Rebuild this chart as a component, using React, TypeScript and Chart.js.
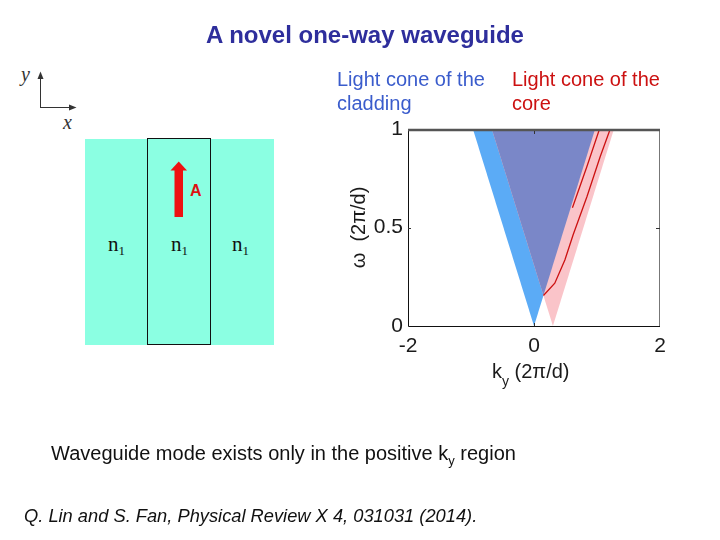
import React, { useEffect, useRef } from "react";
import { Chart, registerables } from "chart.js";

Chart.register(...registerables);

// ---- data (k_y in units of 2π/d, ω in units of 2π/d) ----
const claddingConeK = [0, -0.97, 0.97];
const claddingConeW = [0, 1, 1];
const coreConeK = [0.3, -0.67, 1.27];
const coreConeW = [0, 1, 1];
const overlapK = [0.15, -0.67, 0.97];
const overlapW = [0.155, 1, 1];
const modeAK = [0.15, 0.33, 0.49, 0.62, 0.84, 1.05, 1.21];
const modeAW = [0.155, 0.217, 0.335, 0.462, 0.656, 0.859, 1.0];
const modeBK = [0.61, 0.84, 1.04];
const modeBW = [0.6, 0.81, 1.0];
const xTickStep = 2;
const yTickStep = 0.5;

const pts = (ks: number[], ws: number[]) => ks.map((k, i) => ({ x: k, y: ws[i] }));

const tickFont = { family: "'Liberation Sans', Arial, sans-serif", size: 21 };

const framePlugin = {
  id: "frame",
  afterDatasetsDraw(chart: any) {
    const { ctx, chartArea, scales } = chart;
    const { left, right, top, bottom } = chartArea;
    ctx.save();
    ctx.lineWidth = 1;
    ctx.strokeStyle = "#111";
    ctx.beginPath();
    ctx.moveTo(left + 0.5, top);
    ctx.lineTo(left + 0.5, bottom + 0.5);
    ctx.lineTo(right, bottom + 0.5);
    ctx.stroke();
    ctx.strokeStyle = "#777";
    ctx.beginPath();
    ctx.moveTo(right - 0.5, top);
    ctx.lineTo(right - 0.5, bottom);
    ctx.stroke();
    ctx.strokeStyle = "#555";
    ctx.lineWidth = 2.5;
    ctx.beginPath();
    ctx.moveTo(left, top + 1);
    ctx.lineTo(right, top + 1);
    ctx.stroke();
    // inward tick marks
    ctx.lineWidth = 1;
    ctx.strokeStyle = "#333";
    scales.x.ticks.forEach((t: any) => {
      const px = Math.round(scales.x.getPixelForValue(t.value)) + 0.5;
      if (px <= left + 2 || px >= right - 2) return;
      ctx.beginPath();
      ctx.moveTo(px, bottom);
      ctx.lineTo(px, bottom - 3);
      ctx.moveTo(px, top + 2);
      ctx.lineTo(px, top + 5);
      ctx.stroke();
    });
    scales.y.ticks.forEach((t: any) => {
      const py = Math.round(scales.y.getPixelForValue(t.value)) + 0.5;
      if (py <= top + 2 || py >= bottom - 2) return;
      ctx.beginPath();
      ctx.moveTo(left, py);
      ctx.lineTo(left + 3, py);
      ctx.moveTo(right, py);
      ctx.lineTo(right - 4, py);
      ctx.stroke();
    });
    ctx.restore();
  },
};

function DispersionChart() {
  const ref = useRef<HTMLCanvasElement | null>(null);
  useEffect(() => {
    if (!ref.current) return;
    const region = (data: any, color: string, order: number) => ({
      data,
      showLine: true,
      fill: "shape",
      backgroundColor: color,
      borderColor: "transparent",
      borderWidth: 0,
      pointRadius: 0,
      order,
    });
    const line = (data: any) => ({
      data,
      showLine: true,
      fill: false,
      borderColor: "#cc1111",
      borderWidth: 1.3,
      pointRadius: 0,
      order: 1,
    });
    const chart = new Chart(ref.current, {
      type: "scatter",
      data: {
        datasets: [
          region(pts(claddingConeK, claddingConeW), "#5babf6", 5),
          region(pts(coreConeK, coreConeW), "#fac4c9", 4),
          region(pts(overlapK, overlapW), "#7a87c8", 3),
          line(pts(modeAK, modeAW)),
          line(pts(modeBK, modeBW)),
        ] as any,
      },
      options: {
        animation: false,
        responsive: false,
        maintainAspectRatio: false,
        layout: { padding: { left: 347, right: 60, top: 129, bottom: 154 } },
        plugins: {
          legend: { display: false },
          tooltip: { enabled: false },
        },
        scales: {
          x: {
            type: "linear",
            min: -2,
            max: 2,
            grid: { display: false, drawTicks: false },
            border: { display: false },
            ticks: {
              stepSize: xTickStep,
              font: tickFont,
              color: "#1a1a1a",
              padding: 8,
              maxRotation: 0,
              callback: (v: any) => String(v),
            },
            afterFit: (s: any) => {
              s.height = 60;
            },
          },
          y: {
            type: "linear",
            min: 0,
            max: 1,
            grid: { display: false, drawTicks: false },
            border: { display: false },
            ticks: {
              stepSize: yTickStep,
              font: tickFont,
              color: "#1a1a1a",
              padding: 5,
              callback: (v: any) => String(v),
            },
            title: {
              display: true,
              text: "ω  (2π/d)",
              font: { family: "'Liberation Sans', Arial, sans-serif", size: 20 },
              color: "#1a1a1a",
              padding: 0,
            },
            afterFit: (s: any) => {
              s.width = 61;
            },
          },
        },
      } as any,
      plugins: [framePlugin],
    });
    return () => chart.destroy();
  }, []);
  return (
    <canvas
      ref={ref}
      width={720}
      height={540}
      style={{ position: "absolute", left: 0, top: 0, width: 720, height: 540 }}
    />
  );
}

const sans = "'Liberation Sans', Arial, sans-serif";
const serif = "'Liberation Serif', 'Times New Roman', serif";

const abs = (left: number, top: number, extra: any = {}) => ({
  position: "absolute" as const,
  left,
  top,
  whiteSpace: "nowrap" as const,
  ...extra,
});

function N1({ left }: { left: number }) {
  return (
    <div style={abs(left, 234, { fontFamily: serif, fontSize: 21, lineHeight: "21px", color: "#111" })}>
      n<span style={{ fontSize: 13, position: "relative", top: 4 }}>1</span>
    </div>
  );
}

export default function App() {
  return (
    <div
      style={{
        position: "absolute",
        left: 0,
        top: 0,
        width: 720,
        height: 540,
        background: "#fff",
        overflow: "hidden",
        fontFamily: sans,
      }}
    >
      {/* waveguide sketch */}
      <div style={abs(85, 139, { width: 189, height: 206, background: "#8bffe2" })} />
      <div
        style={abs(147, 138, {
          width: 64,
          height: 207,
          border: "1px solid #111",
          boxSizing: "border-box",
        })}
      />
      <svg
        width={720}
        height={540}
        style={{ position: "absolute", left: 0, top: 0, pointerEvents: "none" }}
      >
        <line x1={40.5} y1={76} x2={40.5} y2={107.5} stroke="#333" strokeWidth={1} />
        <polygon points="37.5,79 40.5,71.5 43.5,79" fill="#333" />
        <line x1={40} y1={107.5} x2={72} y2={107.5} stroke="#333" strokeWidth={1} />
        <polygon points="69,104.5 76.5,107.5 69,110.5" fill="#333" />
        <rect x={174.5} y={169} width={8.5} height={48} fill="#ee1111" />
        <polygon points="170.5,170.5 178.75,161.5 187,170.5" fill="#ee1111" />
      </svg>
      <div style={abs(21, 64, { fontFamily: serif, fontStyle: "italic", fontSize: 20, lineHeight: "20px", color: "#333" })}>y</div>
      <div style={abs(63, 112, { fontFamily: serif, fontStyle: "italic", fontSize: 20, lineHeight: "20px", color: "#333" })}>x</div>
      <div style={abs(190, 183, { fontFamily: sans, fontWeight: "bold", fontSize: 16, lineHeight: "16px", color: "#dd1111" })}>A</div>
      <N1 left={108} />
      <N1 left={171} />
      <N1 left={232} />

      <DispersionChart />

      {/* texts */}
      <div style={abs(0, 23, { width: 730, textAlign: "center", fontWeight: "bold", fontSize: 24, lineHeight: "24px", color: "#2e2e9c" })}>
        A novel one-way waveguide
      </div>
      <div style={abs(337, 67, { fontSize: 20, lineHeight: "24px", color: "#3a5ccc" })}>
        Light cone of the
        <br />
        cladding
      </div>
      <div style={abs(512, 67, { fontSize: 20, lineHeight: "24px", color: "#cc1111" })}>
        Light cone of the
        <br />
        core
      </div>
      <div style={abs(492, 359, { fontSize: 20, lineHeight: "24px", color: "#1a1a1a" })}>
        k<span style={{ fontSize: 14, position: "relative", top: 8 }}>y</span> (2π/d)
      </div>
      <div style={abs(51, 441, { fontSize: 20, lineHeight: "24px", color: "#111" })}>
        Waveguide mode exists only in the positive k
        <span style={{ fontSize: 13, position: "relative", top: 5 }}>y</span> region
      </div>
      <div style={abs(24, 505, { fontSize: 18.3, fontStyle: "italic", lineHeight: "22px", color: "#111" })}>
        Q. Lin and S. Fan, Physical Review X 4, 031031 (2014).
      </div>
    </div>
  );
}
